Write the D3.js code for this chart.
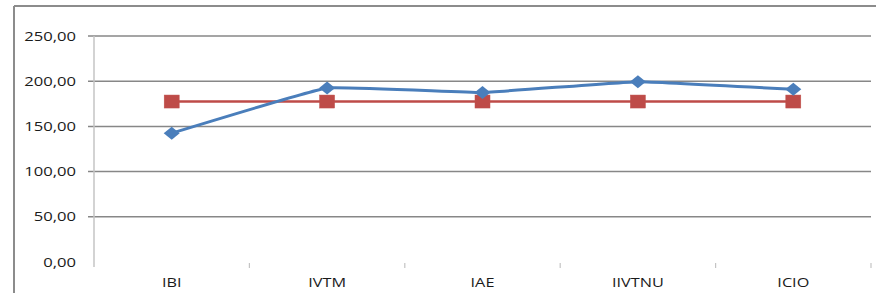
<!DOCTYPE html>
<html>
<head>
<meta charset="utf-8">
<script src="https://cdn.jsdelivr.net/npm/d3@7"></script>
<style>
  body { margin: 0; background: #fff; }
  svg text { font-family: "Open Sans", "Liberation Sans", sans-serif; fill: #1a1a1a; }
</style>
</head>
<body>
<div id="chart"></div>
<script>
// categories and series
const categories = ["IBI", "IVTM", "IAE", "IIVTNU", "ICIO"];
const blueValues = [142.5, 192.5, 187.5, 199.5, 191.0];
const redValues = [177.5, 177.5, 177.5, 177.5, 177.5];
const yTicks = [0, 50, 100, 150, 200, 250];

const W = 876, H = 293;
const margin = {top: 36, right: 5, bottom: 31, left: 94};
const width = 871 - margin.left, height = 262 - margin.top;

const svg = d3.select("#chart").append("svg")
  .attr("width", W).attr("height", H);

// outer frame (only top/left visible)
svg.append("line").attr("x1", 14).attr("x2", W).attr("y1", 6).attr("y2", 6)
  .attr("stroke", "#8c8c8c").attr("stroke-width", 2);
svg.append("line").attr("x1", 14).attr("x2", 14).attr("y1", 6).attr("y2", H)
  .attr("stroke", "#8c8c8c").attr("stroke-width", 2);

const g = svg.append("g").attr("transform", "translate(" + margin.left + "," + margin.top + ")");

const x = d3.scaleBand().domain(categories).range([0, width]);
const y = d3.scaleLinear().domain([0, 250]).range([height, 0]);
const cx = d => x(d) + x.bandwidth() / 2;

const fmt = v => d3.format(".2f")(v).replace(".", ",");

// gridlines (skip 0)
g.selectAll(".grid").data(yTicks.filter(t => t > 0)).enter().append("line")
  .attr("x1", -6).attr("x2", width)
  .attr("y1", d => y(d)).attr("y2", d => y(d))
  .attr("stroke", "#878787").attr("stroke-width", 1.5);

// y axis line
g.append("line").attr("x1", 0).attr("x2", 0).attr("y1", 0).attr("y2", height + 5)
  .attr("stroke", "#c4c4c4").attr("stroke-width", 1.5);

// y labels (stretched horizontally like the source)
g.selectAll(".ylab").data(yTicks).enter().append("text")
  .attr("transform", d => "translate(-18," + (y(d) + 4.5) + ") scale(1.33,1)")
  .attr("text-anchor", "end")
  .style("font-size", "12.5px")
  .text(fmt);

// category ticks
const bounds = categories.map(c => x(c) + x.bandwidth());
g.selectAll(".ctick").data(bounds).enter().append("line")
  .attr("x1", d => d).attr("x2", d => d).attr("y1", height + 1).attr("y2", height + 6)
  .attr("stroke", "#c4c4c4").attr("stroke-width", 1.2);

// category labels
g.selectAll(".xlab").data(categories).enter().append("text")
  .attr("transform", d => "translate(" + cx(d) + "," + (height + 25) + ") scale(1.3,1)")
  .attr("text-anchor", "middle")
  .style("font-size", "12.5px")
  .text(d => d);

// red series
const red = categories.map((c, i) => ({c: c, v: redValues[i]}));
g.append("path").datum(red)
  .attr("fill", "none").attr("stroke", "#be4b48").attr("stroke-width", 2.5)
  .attr("d", d3.line().x(d => cx(d.c)).y(d => y(d.v)));
g.selectAll(".sq").data(red).enter().append("rect")
  .attr("x", d => cx(d.c) - 7.5).attr("y", d => y(d.v) - 6.5)
  .attr("width", 15).attr("height", 13)
  .attr("fill", "#be4b48").attr("stroke", "#c0504d").attr("stroke-width", 0.5);

// blue series (lightly smoothed)
const blue = categories.map((c, i) => ({c: c, v: blueValues[i]}));
g.append("path").datum(blue)
  .attr("fill", "none").attr("stroke", "#4a7ebb").attr("stroke-width", 3)
  .attr("d", d3.line().x(d => cx(d.c)).y(d => y(d.v)).curve(d3.curveCardinal.tension(0.75)));
g.selectAll(".dm").data(blue).enter().append("path")
  .attr("d", d => {
    const px = cx(d.c), py = y(d.v);
    return "M" + (px - 8) + "," + py + "L" + px + "," + (py - 6.5) + "L" + (px + 8) + "," + py + "L" + px + "," + (py + 6.5) + "Z";
  })
  .attr("fill", "#4a7ebb");
</script>
</body>
</html>
